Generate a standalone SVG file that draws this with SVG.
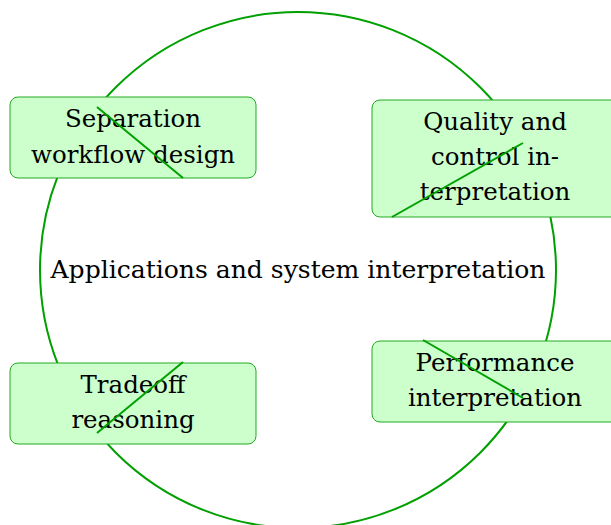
<svg xmlns="http://www.w3.org/2000/svg" width="611" height="525" viewBox="0 0 611 525">
<style>
.ring{fill:none;stroke:#00a000;stroke-width:2}
.box{fill:#ccffcc;stroke:#22aa22;stroke-width:1}
.edge{stroke:#00a000;stroke-width:2;fill:none}
text{font-family:"DejaVu Serif","Liberation Serif",serif;font-size:24.5px;fill:#000;text-anchor:middle}
</style>
<rect width="611" height="525" fill="#ffffff"/>
<g id="ring"><circle class="ring" cx="298" cy="270" r="258"/></g>
<g id="center"><text x="298" y="278" textLength="495" lengthAdjust="spacingAndGlyphs">Applications and system interpretation</text></g>
<g id="node-separation">
<rect class="box" x="10" y="97" width="246" height="81" rx="8"/>
<text x="133" y="127">Separation</text>
<text x="133" y="163">workflow design</text>
</g>
<g id="node-quality">
<rect class="box" x="372" y="100" width="250" height="117" rx="8"/>
<text x="495" y="130">Quality and</text>
<text x="495" y="165">control in-</text>
<text x="495" y="200">terpretation</text>
</g>
<g id="node-tradeoff">
<rect class="box" x="10" y="363" width="246" height="81" rx="8"/>
<text x="133" y="393">Tradeoff</text>
<text x="133" y="428">reasoning</text>
</g>
<g id="node-performance">
<rect class="box" x="372" y="341" width="250" height="81" rx="8"/>
<text x="495" y="371">Performance</text>
<text x="495" y="406">interpretation</text>
</g>
<g id="connectors">
<line class="edge" x1="97" y1="107" x2="183" y2="178"/>
<line class="edge" x1="392" y1="217" x2="523" y2="143"/>
<line class="edge" x1="97" y1="433" x2="183" y2="362"/>
<line class="edge" x1="423" y1="340" x2="523" y2="398"/>
</g>
</svg>
